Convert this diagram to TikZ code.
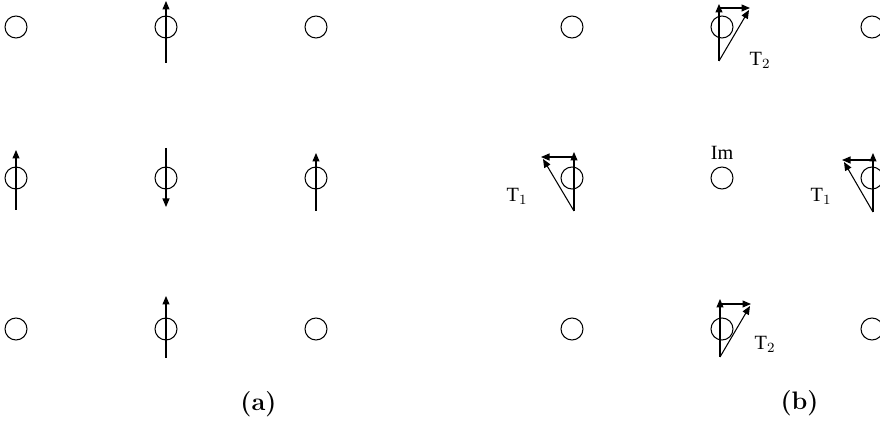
\documentclass[tikz,border=0pt]{standalone}
\usepackage{fontspec}
\newfontfamily\tagfont{Liberation Serif}
\usetikzlibrary{arrows.meta}

\begin{document}
\begin{tikzpicture}[
  site/.style={
    draw, circle, line width=0.6pt,
    minimum size=0.44cm, inner sep=0pt
  },
  spin/.style={
    line width=0.6pt,
    -{Triangle[length=0.17cm, width=0.14cm]}
  },
  tag/.style={
    font=\fontsize{11.5}{13}\selectfont\tagfont, inner sep=0pt
  },
  caption/.style={
    font=\Large\bfseries, inner sep=0pt
  },
]

\useasboundingbox (-3.32,-4.90) rectangle (14.28,3.56);

\def\sep{3}
\def\rsep{3.02}
\def\off{11.12}

% lattice (a)
\node[site] (aTL) at (-\sep,  \rsep) {};
\node[site] (aT)  at (0,      \rsep) {};
\node[site] (aTR) at (\sep,   \rsep) {};
\node[site] (aL)  at (-\sep,  0) {};
\node[site] (aC)  at (0,      0) {};
\node[site] (aR)  at (\sep,   0) {};
\node[site] (aBL) at (-\sep, -\rsep) {};
\node[site] (aB)  at (0,     -\rsep) {};
\node[site] (aBR) at (\sep,  -\rsep) {};

\draw[spin] ([yshift=-0.72cm]aT.center) -- ([yshift=0.52cm]aT.center);
\draw[spin] ([yshift=-0.64cm]aL.center) -- ([yshift=0.56cm]aL.center);
\draw[spin] ([yshift=0.60cm]aC.center) -- ([yshift=-0.58cm]aC.center);
\draw[spin] ([yshift=-0.66cm]aR.center) -- ([yshift=0.50cm]aR.center);
\draw[spin] ([yshift=-0.58cm]aB.center) -- ([yshift=0.66cm]aB.center);

\node[caption] (capA) at (1.85, -4.52) {(a)};

% lattice (b)
\node[site] (bTL) at (\off-\sep,  \rsep) {};
\node[site] (bT)  at (\off,       \rsep) {};
\node[site] (bTR) at (\off+\sep,  \rsep) {};
\node[site] (bL)  at (\off-\sep,  0) {};
\node[site] (bC)  at (\off,       0) {};
\node[site] (bR)  at (\off+\sep,  0) {};
\node[site] (bBL) at (\off-\sep, -\rsep) {};
\node[site] (bB)  at (\off,      -\rsep) {};
\node[site] (bBR) at (\off+\sep, -\rsep) {};

\node[tag, above=0.14cm] (im) at (bC.north) {Im};

% top triangle
\coordinate (tTo) at ([shift={(-0.06,-0.68)}]bT.center);
\coordinate (tTv) at ([shift={(-0.06,0.46)}]bT.center);
\coordinate (tTh) at ([shift={(-0.06,0.38)}]bT.center);
\coordinate (tTe) at ([shift={(0.56,0.38)}]bT.center);
\coordinate (tTd) at ([shift={(0.54,0.34)}]bT.center);
\draw[spin] (tTo) -- (tTv);
\draw[spin] (tTh) -- (tTe);
\draw[spin] (tTo) -- (tTd);
\node[tag] (t2top) at ([shift={(0.76,-0.66)}]bT.center) {T$_2$};

% bottom triangle
\coordinate (tBo) at ([shift={(-0.04,-0.56)}]bB.center);
\coordinate (tBv) at ([shift={(-0.04,0.60)}]bB.center);
\coordinate (tBh) at ([shift={(-0.04,0.50)}]bB.center);
\coordinate (tBe) at ([shift={(0.58,0.50)}]bB.center);
\coordinate (tBd) at ([shift={(0.56,0.46)}]bB.center);
\draw[spin] (tBo) -- (tBv);
\draw[spin] (tBh) -- (tBe);
\draw[spin] (tBo) -- (tBd);
\node[tag] (t2bot) at ([shift={(0.86,-0.30)}]bB.center) {T$_2$};

% left triangle
\coordinate (tLo) at ([shift={(0.04,-0.66)}]bL.center);
\coordinate (tLv) at ([shift={(0.04,0.52)}]bL.center);
\coordinate (tLh) at ([shift={(0.04,0.42)}]bL.center);
\coordinate (tLe) at ([shift={(-0.62,0.42)}]bL.center);
\coordinate (tLd) at ([shift={(-0.58,0.38)}]bL.center);
\draw[spin] (tLo) -- (tLv);
\draw[spin] (tLh) -- (tLe);
\draw[spin] (tLo) -- (tLd);
\node[tag] (t1left) at ([shift={(-1.10,-0.36)}]bL.center) {T$_1$};

% right triangle
\coordinate (tRo) at ([shift={(0.02,-0.68)}]bR.center);
\coordinate (tRv) at ([shift={(0.02,0.50)}]bR.center);
\coordinate (tRh) at ([shift={(0.02,0.36)}]bR.center);
\coordinate (tRe) at ([shift={(-0.60,0.36)}]bR.center);
\coordinate (tRd) at ([shift={(-0.56,0.32)}]bR.center);
\draw[spin] (tRo) -- (tRv);
\draw[spin] (tRh) -- (tRe);
\draw[spin] (tRo) -- (tRd);
\node[tag] (t1right) at ([shift={(-1.02,-0.36)}]bR.center) {T$_1$};

\node[caption] (capB) at (12.67, -4.50) {(b)};

\end{tikzpicture}
\end{document}
